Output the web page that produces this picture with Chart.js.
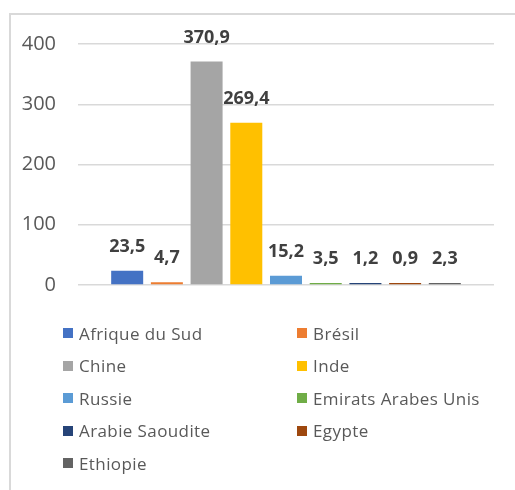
<!DOCTYPE html>
<html>
<head>
<meta charset="utf-8">
<script src="https://cdn.jsdelivr.net/npm/chart.js@4"></script>
<style>
  html, body { margin: 0; padding: 0; background: #fff; }
  #page { position: relative; width: 515px; height: 490px; overflow: hidden; }
  #frame { position: absolute; left: 9px; top: 13px; width: 510px; height: 480px;
           border-top: 2px solid #d9d9d9; border-left: 2px solid #d9d9d9; }
  #wrap { position: absolute; left: 0; top: 0; width: 515px; height: 319px; }
  #legend { position: absolute; left: 63px; top: 317px; width: 440px;
            display: grid; grid-template-columns: 234px 200px; grid-auto-rows: 32.5px;
            font-family: "Open Sans", sans-serif; font-size: 17px; letter-spacing: 0.4px; color: #595959; }
  .leg-item { display: flex; align-items: center; white-space: nowrap; }
  .leg-box { width: 10px; height: 10px; margin-right: 6px; flex: none; }
</style>
</head>
<body>
<div id="page">
  <div id="frame"></div>
  <div id="wrap"><canvas id="chart-bars"></canvas></div>
  <div id="legend"></div>
</div>
<script>
// pays et valeurs
const countries = ['Afrique du Sud', 'Brésil', 'Chine', 'Inde', 'Russie',
                   'Emirats Arabes Unis', 'Arabie Saoudite', 'Egypte', 'Ethiopie'];
const values = [23.5, 4.7, 370.9, 269.4, 15.2, 3.5, 1.2, 0.9, 2.3];
const colors = ['#4472C4', '#ED7D31', '#A5A5A5', '#FFC000', '#5B9BD5',
                '#70AD47', '#264478', '#9E480E', '#636363'];
const yTicks = [0, 100, 200, 300, 400];

const valueLabels = {
  id: 'valueLabels',
  afterDatasetsDraw(chart) {
    const ctx = chart.ctx;
    ctx.save();
    ctx.font = 'bold 18px "Open Sans", sans-serif';
    ctx.fillStyle = '#404040';
    ctx.textAlign = 'center';
    ctx.textBaseline = 'middle';
    chart.data.datasets.forEach((ds, i) => {
      const bar = chart.getDatasetMeta(i).data[0];
      if (!bar) return;
      ctx.fillText(String(ds.data[0]).replace('.', ','), bar.x, bar.y - 24);
    });
    ctx.restore();
  }
};

const chart = new Chart(document.getElementById('chart-bars').getContext('2d'), {
  type: 'bar',
  data: {
    labels: [''],
    datasets: countries.map((c, i) => ({
      label: c,
      data: [values[i]],
      backgroundColor: colors[i],
      categoryPercentage: 0.859,
      barPercentage: 0.806,
      minBarLength: 2
    }))
  },
  options: {
    responsive: true,
    maintainAspectRatio: false,
    animation: false,
    layout: { padding: { top: 44, right: 21, bottom: 16, left: 0 } },
    plugins: { legend: { display: false }, tooltip: { enabled: false } },
    scales: {
      x: { display: false },
      y: {
        min: 0,
        max: 400,
        afterFit: (scale) => { scale.width = 78; },
        afterBuildTicks: (scale) => { scale.ticks = yTicks.map(v => ({ value: v })); },
        border: { display: false },
        grid: { color: '#d9d9d9', lineWidth: 1.5, drawTicks: false },
        ticks: {
          padding: 22,
          color: '#595959',
          font: { family: '"Open Sans", sans-serif', size: 20 }
        }
      }
    }
  },
  plugins: [valueLabels]
});

const legend = document.getElementById('legend');
legend.innerHTML = countries.map((c, i) => `
  <div class="leg-item"><span class="leg-box" style="background:${colors[i]}"></span>${c}</div>
`).join('');
</script>
</body>
</html>
